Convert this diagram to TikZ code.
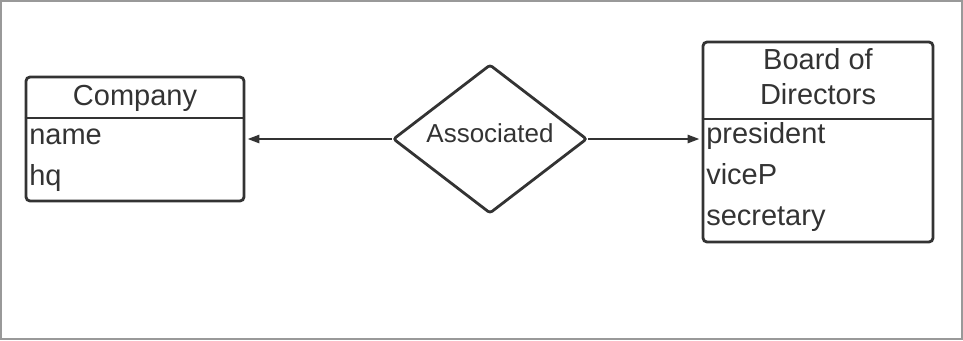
\documentclass[tikz,border=0pt]{standalone}
\usepackage{fontspec}
\setmainfont{Liberation Sans}
\usetikzlibrary{shapes.geometric,arrows.meta}
\definecolor{ink}{HTML}{333333}
\definecolor{framegray}{HTML}{999999}
\begin{document}
\begin{tikzpicture}[x=0.75pt,y=-0.75pt,
  entitybox/.style={draw=ink, line width=2.1pt, rounded corners=3pt, inner sep=0pt},
  divider/.style={draw=ink, line width=1.7pt},
  relbox/.style={diamond, draw=ink, line width=2.1pt, rounded corners=2pt, inner sep=0pt},
  bigtext/.style={text=ink, inner sep=0pt, font=\fontsize{21.75}{26}\selectfont},
  reltext/.style={text=ink, inner sep=0pt, font=\fontsize{19.5}{23}\selectfont},
  link/.style={draw=ink, line width=1.9pt, -{Triangle[length=9pt,width=6pt]}, shorten >=1.5pt}]
\useasboundingbox (0,0) rectangle (963,340);
\draw[framegray, line width=1.5pt] (1,1) rectangle (962,339);

% Company entity
\node[entitybox, minimum width=163.5pt, minimum height=93pt] (company) at (135,139) {};
\draw[divider] (company.west |- 0,118) -- (company.east |- 0,118);
\node[bigtext, anchor=base] (companytitle) at (135,105) {Company};
\node[bigtext, anchor=base west] (cname) at (29,144) {name};
\node[bigtext, anchor=base west] (chq) at (29,185) {hq};

% Board of Directors entity
\node[entitybox, minimum width=172.5pt, minimum height=150pt] (board) at (818,142) {};
\draw[divider] (board.west |- 0,119) -- (board.east |- 0,119);
\node[bigtext, anchor=base] (boardtitle1) at (818,69) {Board of};
\node[bigtext, anchor=base] (boardtitle2) at (818,104) {Directors};
\node[bigtext, anchor=base west] (bpres) at (706,143) {president};
\node[bigtext, anchor=base west] (bvice) at (706,184) {viceP};
\node[bigtext, anchor=base west] (bsec) at (706,225) {secretary};

% Relationship
\node[relbox, minimum width=145.5pt, minimum height=111.75pt] (assoc) at (490,139) {};
\node[reltext, anchor=base] (assoclabel) at (490,142) {Associated};

% Connectors
\draw[link] (assoc.west) -- (assoc.west -| company.east);
\draw[link] (assoc.east) -- (assoc.east -| board.west);
\end{tikzpicture}
\end{document}
